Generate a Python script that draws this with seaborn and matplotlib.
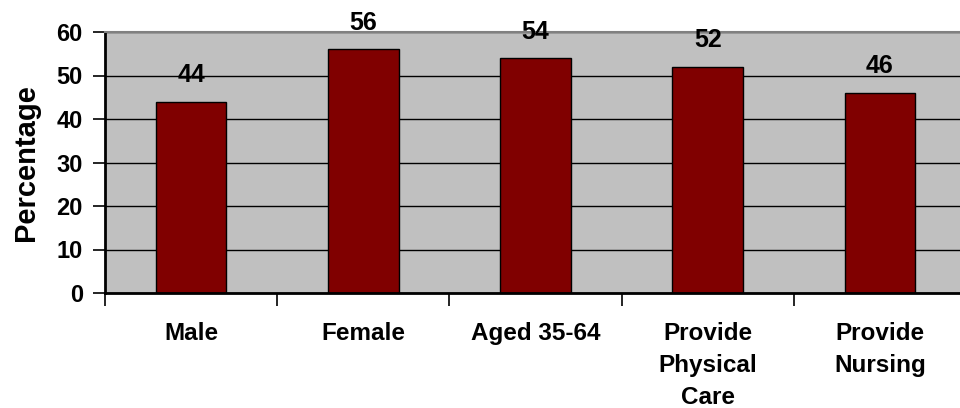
import matplotlib
matplotlib.use("Agg")
import matplotlib.pyplot as plt
import seaborn as sns
import pandas as pd
from matplotlib.ticker import FixedLocator

categories = ["Male", "Female", "Aged 35-64", "Provide\nPhysical\nCare", "Provide\nNursing"]
values = [44, 56, 54, 52, 46]
value_labels = ["44", "56", "54", "52", "46"]
y_ticks = [0, 10, 20, 30, 40, 50, 60]

sns.set_style("white")
plt.rcParams["font.family"] = ["Liberation Sans", "DejaVu Sans"]
plt.rcParams["font.weight"] = "bold"
for k in ["text.color", "axes.labelcolor", "xtick.color", "ytick.color",
          "xtick.labelcolor", "ytick.labelcolor"]:
    plt.rcParams[k] = "black"

df = pd.DataFrame({"cat": categories, "val": values})

fig = plt.figure(figsize=(9.6, 4.08), dpi=100)
ax = fig.add_axes([105 / 960, 1 - 293 / 408, 861 / 960, 261 / 408])
ax.set_facecolor("#C0C0C0")

sns.barplot(data=df, x="cat", y="val", color="#800000", width=0.41,
            edgecolor="black", linewidth=1, saturation=1, ax=ax)

ax.set_xlim(-0.5, len(categories) - 0.5)
ax.set_ylim(0, 60)
ax.set_yticks(y_ticks)
ax.set_yticklabels([str(t) for t in y_ticks])
ax.set_axisbelow(True)
ax.yaxis.grid(True, color="black", linewidth=1)
ax.xaxis.grid(False)

for i, (v, lab) in enumerate(zip(values, value_labels)):
    ax.annotate(lab, (i, v), xytext=(0, 14), textcoords="offset points",
                ha="center", va="baseline", fontsize=18, fontweight="bold",
                color="black")

ax.set_xlabel("")
ax.set_ylabel("Percentage", fontsize=21, fontweight="bold", labelpad=12,
              color="black")

ax.tick_params(axis="y", which="major", direction="out", length=9, width=1.2,
               color="black", labelcolor="black", labelsize=17, pad=7, left=True)
ax.tick_params(axis="x", which="major", length=0, labelsize=17.5, pad=21,
               labelcolor="black")
ax.xaxis.set_minor_locator(FixedLocator([i + 0.5 for i in range(-1, len(categories))]))
ax.tick_params(axis="x", which="minor", direction="out", length=9, width=1.2,
               color="black", bottom=True)
for lab in ax.get_xticklabels():
    lab.set_fontweight("bold")
    lab.set_linespacing(1.5)
    lab.set_va("top")
for lab in ax.get_yticklabels():
    lab.set_fontweight("bold")

for s in ["left", "bottom"]:
    ax.spines[s].set_color("black")
    ax.spines[s].set_linewidth(2)
ax.spines["top"].set_color("#808080")
ax.spines["top"].set_linewidth(1.5)
ax.spines["right"].set_visible(False)

fig.savefig("out.png", dpi=100)
